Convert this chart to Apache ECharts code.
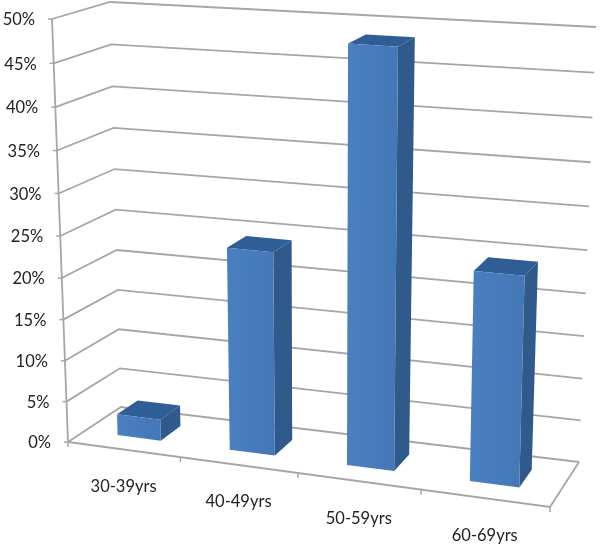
<!DOCTYPE html>
<html>
<head>
<meta charset="utf-8">
<style>
    html, body { margin: 0; background: #fff; }
    #chart { width: 600px; height: 544px; }
</style>
<script src="https://cdn.jsdelivr.net/npm/echarts@6/dist/echarts.min.js"></script>
</head>
<body>
<div id="chart"></div>
<script>
const categories = ['30-39yrs', '40-49yrs', '50-59yrs', '60-69yrs'];
const shareValues = [2.6, 24.3, 48.6, 24.4];
const valueTicks = [0, 5, 10, 15, 20, 25, 30, 35, 40, 45, 50];
const tickLabels = ['0%', '5%', '10%', '15%', '20%', '25%', '30%', '35%', '40%', '45%', '50%'];

// box corners on screen, [across][depth] for floor and top
const floorCorners = [[[68, 442], [121, 407]], [[550, 507], [579, 462]]];
const topCorners = [[[52, 19], [110, 2]], [[562, 53], [596, 27]]];
const acrossBend = 1.096;
const heightBend = 0.053;
const depthFront = 0.32;
const depthBack = 0.72;
const barShare = 0.39;
const barShift = -0.005;

const labelFont = 'Lato, sans-serif';
const gridColor = '#a6a6a6';

function mix(a, b, f) {
    return [a[0] + (b[0] - a[0]) * f, a[1] + (b[1] - a[1]) * f];
}

// u across, d depth, t height, all 0..1 -> screen point
function project(u, d, t) {
    let a = u / (u + (1 - u) * acrossBend);
    let h = t / (1 + heightBend * (1 - t));
    let front = mix(mix(floorCorners[0][0], floorCorners[1][0], a), mix(topCorners[0][0], topCorners[1][0], a), h);
    let back = mix(mix(floorCorners[0][1], floorCorners[1][1], a), mix(topCorners[0][1], topCorners[1][1], a), h);
    return mix(front, back, d);
}

// pixels of the hidden grid -> 0..1
function normalise(params, point) {
    let rect = params.coordSys;
    return [(point[0] - rect.x) / rect.width, (rect.y + rect.height - point[1]) / rect.height];
}

function line(points, width) {
    return {
        type: 'polyline',
        shape: { points: points },
        style: { stroke: gridColor, lineWidth: width, fill: 'none' }
    };
}

function label(text, x, y, align) {
    return {
        type: 'text',
        style: {
            text: text, x: x, y: y,
            fill: '#222', fontSize: 16.5, fontFamily: labelFont,
            textAlign: align, textVerticalAlign: 'middle'
        }
    };
}

function renderValueLine(params, api) {
    let t = normalise(params, api.coord([0, api.value(1)]))[1];
    let start = project(0, 0, t);
    return {
        type: 'group',
        children: [
            line([project(0, 0, t), project(0, 1, t), project(1, 1, t)], 1.8),
            line([[start[0] - 4, start[1]], start], 1.5),
            label(tickLabels[params.dataIndex], start[0] - 17, start[1] + 1, 'right')
        ]
    };
}

function renderFrame(params, api) {
    let point = api.coord([api.value(0), 0]);
    let band = api.size([1, 0])[0];
    let mid = normalise(params, point)[0];
    let end = normalise(params, [point[0] + band / 2, point[1]])[0];
    let children = [];
    let tickEnd = project(end, 0, 0);
    children.push(line([tickEnd, [tickEnd[0], tickEnd[1] + 5]], 1.5));
    let centre = project(mid, 0, 0);
    children.push(label(categories[params.dataIndex], centre[0], centre[1] + 37, 'center'));
    if (params.dataIndex === 0) {
        let origin = project(0, 0, 0);
        children.push(line([origin, [origin[0], origin[1] + 5]], 1.5));
        children.push(line([project(0, 0, 0), project(0, 0, 1)], 1.8));
        children.push(line([project(0, 0, 0), project(1, 0, 0), project(1, 1, 0)], 1.8));
    }
    return { type: 'group', children: children };
}

function renderBar(params, api) {
    let top = api.coord([api.value(0), api.value(1)]);
    let band = api.size([1, 0])[0];
    let half = band * barShare / 2;
    let shift = band * barShift;
    let left = normalise(params, [top[0] + shift - half, top[1]])[0];
    let right = normalise(params, [top[0] + shift + half, top[1]])[0];
    let t = normalise(params, top)[1];
    let frontFill = new echarts.graphic.LinearGradient(0, 0, 1, 0, [
        { offset: 0, color: '#4a7fc0' },
        { offset: 1, color: '#4477b6' }
    ]);
    return {
        type: 'group',
        children: [
            {
                type: 'polygon',
                shape: { points: [project(left, depthFront, t), project(right, depthFront, t), project(right, depthBack, t), project(left, depthBack, t)] },
                style: { fill: '#2f5d96' }
            },
            {
                type: 'polygon',
                shape: { points: [project(right, depthFront, 0), project(right, depthBack, 0), project(right, depthBack, t), project(right, depthFront, t)] },
                style: { fill: '#30598c' }
            },
            {
                type: 'polygon',
                shape: { points: [project(left, depthFront, 0), project(right, depthFront, 0), project(right, depthFront, t), project(left, depthFront, t)] },
                style: { fill: frontFill }
            }
        ]
    };
}

let chart = echarts.init(document.getElementById('chart'));
chart.setOption({
    animation: false,
    backgroundColor: '#fff',
    grid: { left: 60, right: 60, top: 20, bottom: 60 },
    xAxis: { type: 'category', data: categories, show: false },
    yAxis: { type: 'value', min: 0, max: 50, interval: 5, show: false },
    series: [
        {
            type: 'custom',
            silent: true,
            renderItem: renderValueLine,
            encode: { x: 0, y: 1 },
            data: valueTicks.map(function (v) { return [0, v]; })
        },
        {
            type: 'custom',
            silent: true,
            renderItem: renderFrame,
            encode: { x: 0, y: 1 },
            data: categories.map(function (c, i) { return [i, 0]; })
        },
        {
            type: 'custom',
            silent: true,
            renderItem: renderBar,
            encode: { x: 0, y: 1 },
            data: shareValues.map(function (v, i) { return [i, v]; })
        }
    ]
});
</script>
</body>
</html>
